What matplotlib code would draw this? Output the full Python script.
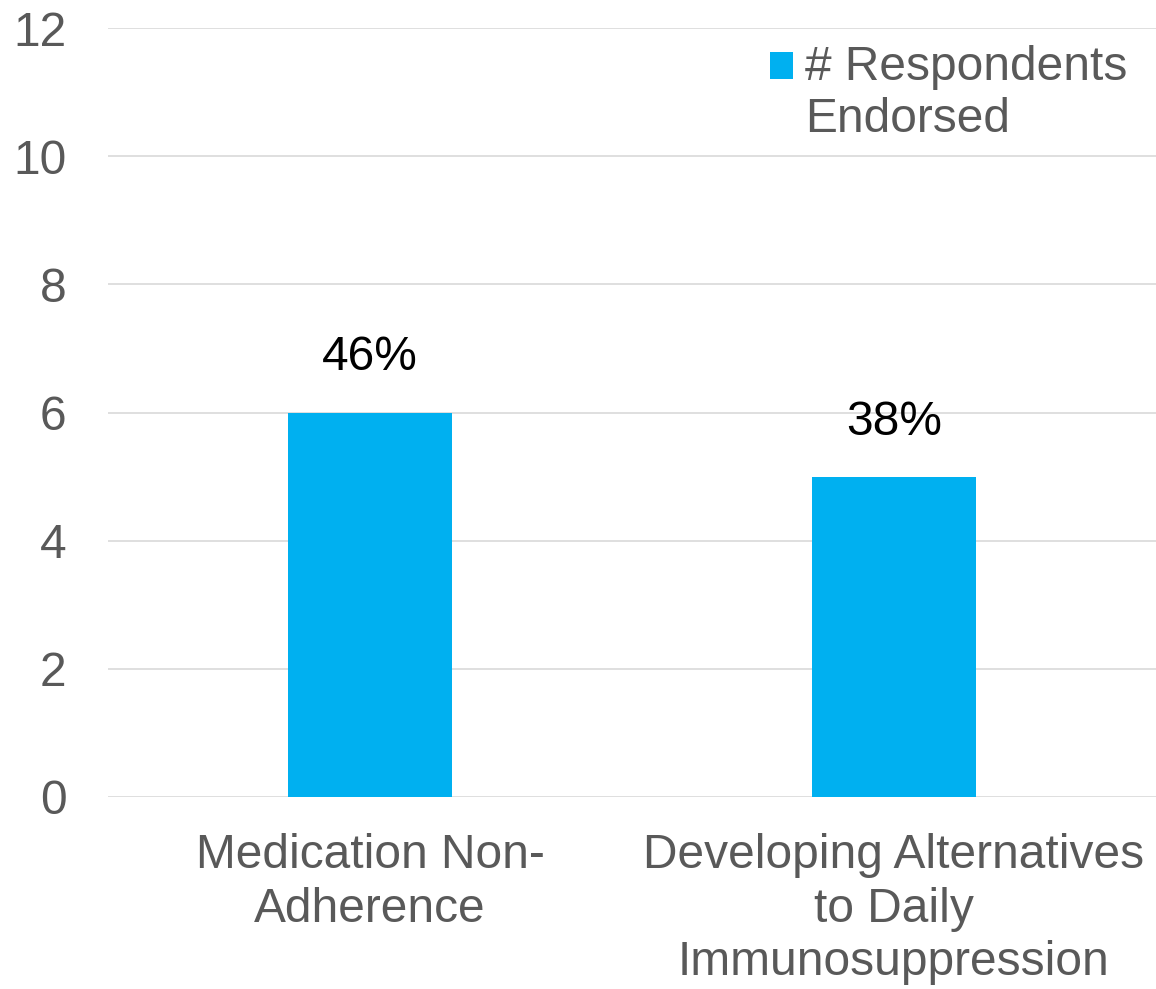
import matplotlib
matplotlib.use("Agg")
import matplotlib.pyplot as plt
from matplotlib.patches import Rectangle
from matplotlib.legend_handler import HandlerPatch
from matplotlib.container import BarContainer

categories = ["Medication Non-\nAdherence",
              "Developing Alternatives\nto Daily\nImmunosuppression"]
respondents = [6, 5]
pct_labels = ["46%", "38%"]
y_ticks = [0, 2, 4, 6, 8, 10, 12]

plt.rcParams['font.family'] = ['Liberation Sans', 'DejaVu Sans']
FS = 34.5

fig = plt.figure(figsize=(11.56, 9.89), dpi=100)
ax = fig.add_axes([108 / 1156, 1 - 797 / 989, 1048 / 1156, (797 - 28) / 989])

x = range(len(categories))
bars = ax.bar(x, respondents, width=0.313, color='#00B0F0',
              label='# Respondents\nEndorsed', zorder=3)

for b, lab in zip(bars, pct_labels):
    ax.text(b.get_x() + b.get_width() / 2, b.get_height() + 0.5, lab,
            ha='center', va='bottom', fontsize=FS, color='black')

ax.set_xlim(-0.5, 1.5)
ax.set_ylim(0, 12)
ax.set_yticks(y_ticks)
ax.set_xticks(list(x))
ax.set_xticklabels(categories, fontsize=FS, color='#595959', linespacing=1.24)
ax.tick_params(axis='y', labelsize=FS, labelcolor='#595959', length=0, pad=30)
ax.tick_params(axis='x', length=0, pad=26)
ax.grid(axis='y', color='#D9D9D9', linewidth=1.2, zorder=0)
for s in ax.spines.values():
    s.set_visible(False)


# put the legend square next to the first line of the label
def square_first_line(legend, orig_handle, xdescent, ydescent, width, height, fontsize):
    return Rectangle((-xdescent, -ydescent + 0.5 * fontsize + 3), width, height)


def first_bar_style(legend_handle, orig_handle):
    legend_handle.update_from(orig_handle[0])


ax.legend(loc='upper left', bbox_to_anchor=(770 / 1156, 1 - 45 / 989),
          bbox_transform=fig.transFigure, frameon=False,
          fontsize=FS, labelcolor='#595959', handlelength=0.48,
          handleheight=0.48, handletextpad=0.25, borderpad=0, borderaxespad=0,
          handler_map={BarContainer: HandlerPatch(patch_func=square_first_line,
                                                  update_func=first_bar_style)})
leg = ax.get_legend()
for t in leg.get_texts():
    t.set_linespacing(1.2)

fig.savefig("out.png", dpi=100, facecolor='white')
